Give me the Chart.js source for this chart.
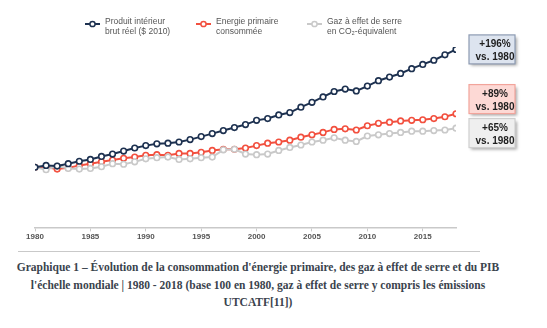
<!DOCTYPE html>
<html lang="fr">
<head>
<meta charset="utf-8">
<script src="https://cdn.jsdelivr.net/npm/chart.js@4.4.1/dist/chart.umd.min.js"></script>
<style>
  html, body { margin: 0; padding: 0; background: #fff; }
  #wrap { position: relative; width: 547px; height: 250px; }
  #rule { position: absolute; left: 18px; top: 251px; width: 462px; height: 0; border-top: 1.5px solid #c9c9c9; }
  #caption {
    position: absolute; left: 0; top: 259px; width: 516px;
    text-align: center; font: bold 11.5px/17.5px "Liberation Serif", "DejaVu Serif", serif;
    color: #3a434d;
  }
</style>
</head>
<body>
<div id="wrap"><canvas id="chart"></canvas></div>
<div id="rule"></div>
<div id="caption">Graphique 1 – Évolution de la consommation d'énergie primaire, des gaz à effet de serre et du PIB l'échelle mondiale | 1980 - 2018 (base 100 en 1980, gaz à effet de serre y compris les émissions UTCATF[11])</div>

<script>
// indices, base 100 en 1980
const years = [];
for (let y = 1980; y <= 2018; y++) years.push(y);

const pib = [100, 103, 102, 106, 110, 113, 118, 122, 127, 132,
             136, 139, 140, 142, 146, 151, 156, 161, 166, 171,
             178, 181, 187, 191, 200, 208, 217, 226, 230, 227,
             235, 244, 250, 256, 264, 271, 278, 287, 296];

const energie = [100, 100, 97, 99, 103, 106, 109, 112, 115, 117,
                 120, 121, 120, 123, 123, 125, 128, 130, 130, 132,
                 136, 140, 142, 145, 150, 154, 158, 163, 164, 162,
                 169, 173, 175, 177, 178, 179, 181, 184, 189];

const ges = [100, 96, 102, 98, 97, 98, 101, 106, 105, 109,
             114, 116, 117, 113, 114, 116, 117, 129, 130, 122,
             121, 122, 128, 133, 137, 142, 145, 149, 145, 143,
             152, 154, 156, 158, 160, 160, 161, 162, 165];

const seriesLabels = [
  ["Produit intérieur", "brut réel ($ 2010)"],
  ["Energie primaire", "consommée"],
  ["Gaz à effet de serre", "en CO₂-équivalent"]
];

const lineColors = ["#1d3150", "#f2503f", "#c9c9c9"];
const boxFills = ["#dde4ef", "#fdd9d5", "#efefef"];
const boxStrokes = ["#8d9bb2", "#f2a49b", "#cfcfcf"];

const toPoints = arr => arr.map((v, i) => ({ x: years[i], y: v }));

const mkSet = (i, data, order) => ({
  label: seriesLabels[i].join(" "),
  data: toPoints(data),
  borderColor: lineColors[i],
  backgroundColor: "#fff",
  pointBackgroundColor: "#fff",
  pointBorderColor: lineColors[i],
  pointRadius: 2.8,
  pointBorderWidth: 1.6,
  borderWidth: 2,
  tension: 0,
  order
});

// two-line legend on top, drawn by hand
const topLegend = {
  id: "topLegend",
  afterDraw(chart) {
    const ctx = chart.ctx;
    ctx.save();
    seriesLabels.forEach((lines, i) => {
      const x0 = 85 + i * 111;
      const ym = 24;
      ctx.strokeStyle = lineColors[i];
      ctx.lineWidth = 2;
      ctx.beginPath();
      ctx.moveTo(x0, ym);
      ctx.lineTo(x0 + 15, ym);
      ctx.stroke();
      ctx.beginPath();
      ctx.arc(x0 + 7.5, ym, 2.6, 0, Math.PI * 2);
      ctx.fillStyle = "#fff";
      ctx.fill();
      ctx.lineWidth = 1.5;
      ctx.stroke();
      ctx.fillStyle = "#555";
      ctx.font = "8.5px 'Liberation Sans', Arial, sans-serif";
      ctx.textBaseline = "middle";
      ctx.textAlign = "left";
      lines.forEach((t, k) => ctx.fillText(t, x0 + 20, 21.5 + k * 10.3));
    });
    ctx.restore();
  }
};

// "+xx% vs. 1980" boxes next to the last point of each series
const endBoxes = {
  id: "endBoxes",
  afterDraw(chart) {
    const ctx = chart.ctx;
    const xs = chart.scales.x, ys = chart.scales.y;
    const h = 29, w = 46, gap = 5;
    const boxes = [pib, energie, ges].map((arr, i) => {
      const v = arr[arr.length - 1];
      return { i, v, c: ys.getPixelForValue(v) };
    }).sort((a, b) => a.c - b.c);
    // push overlapping boxes apart
    for (let k = 1; k < boxes.length; k++) {
      const need = h + gap - (boxes[k].c - boxes[k - 1].c);
      if (need > 0) {
        boxes[k - 1].c -= need * 0.75;
        boxes[k].c += need * 0.25;
      }
    }
    const left = xs.right + 13;
    ctx.save();
    boxes.forEach(b => {
      const top = b.c - h / 2;
      ctx.shadowColor = "rgba(0,0,0,0.35)";
      ctx.shadowBlur = 3;
      ctx.shadowOffsetX = 2;
      ctx.shadowOffsetY = 2;
      ctx.fillStyle = boxFills[b.i];
      ctx.fillRect(left, top, w, h);
      ctx.shadowColor = "transparent";
      ctx.strokeStyle = boxStrokes[b.i];
      ctx.lineWidth = 1.2;
      ctx.strokeRect(left, top, w, h);
      ctx.fillStyle = "#1e1e1e";
      ctx.font = "bold 10px 'Liberation Sans', Arial, sans-serif";
      ctx.textAlign = "center";
      ctx.textBaseline = "middle";
      ctx.fillText("+" + (b.v - 100) + "%", left + w / 2 + 3, top + 9.5);
      ctx.fillText("vs. " + years[0], left + w / 2 + 3, top + 22.5);
    });
    ctx.restore();
  }
};

new Chart(document.getElementById("chart"), {
  type: "line",
  data: {
    datasets: [
      mkSet(0, pib, 0),
      mkSet(1, energie, 2),
      mkSet(2, ges, 1)
    ]
  },
  options: {
    responsive: true,
    maintainAspectRatio: false,
    animation: false,
    layout: { padding: { top: 47, right: 91, left: 35, bottom: 7 } },
    plugins: {
      legend: { display: false },
      tooltip: { enabled: false }
    },
    scales: {
      x: {
        type: "linear",
        min: 1980,
        max: 2018,
        afterBuildTicks: axis => {
          axis.ticks = axis.ticks.filter(t => t.value % 5 === 0);
        },
        ticks: {
          stepSize: 5,
          color: "#555",
          padding: 1,
          font: { family: "'Liberation Sans', Arial, sans-serif", size: 8, weight: "bold" },
          callback: v => String(v)
        },
        grid: { drawOnChartArea: false, drawTicks: true, tickLength: 4, color: "#c9c9c9" },
        border: { display: true, color: "#c9c9c9", width: 1.5 }
      },
      y: {
        display: false,
        min: 0,
        max: 300
      }
    }
  },
  plugins: [topLegend, endBoxes]
});
</script>
</body>
</html>
